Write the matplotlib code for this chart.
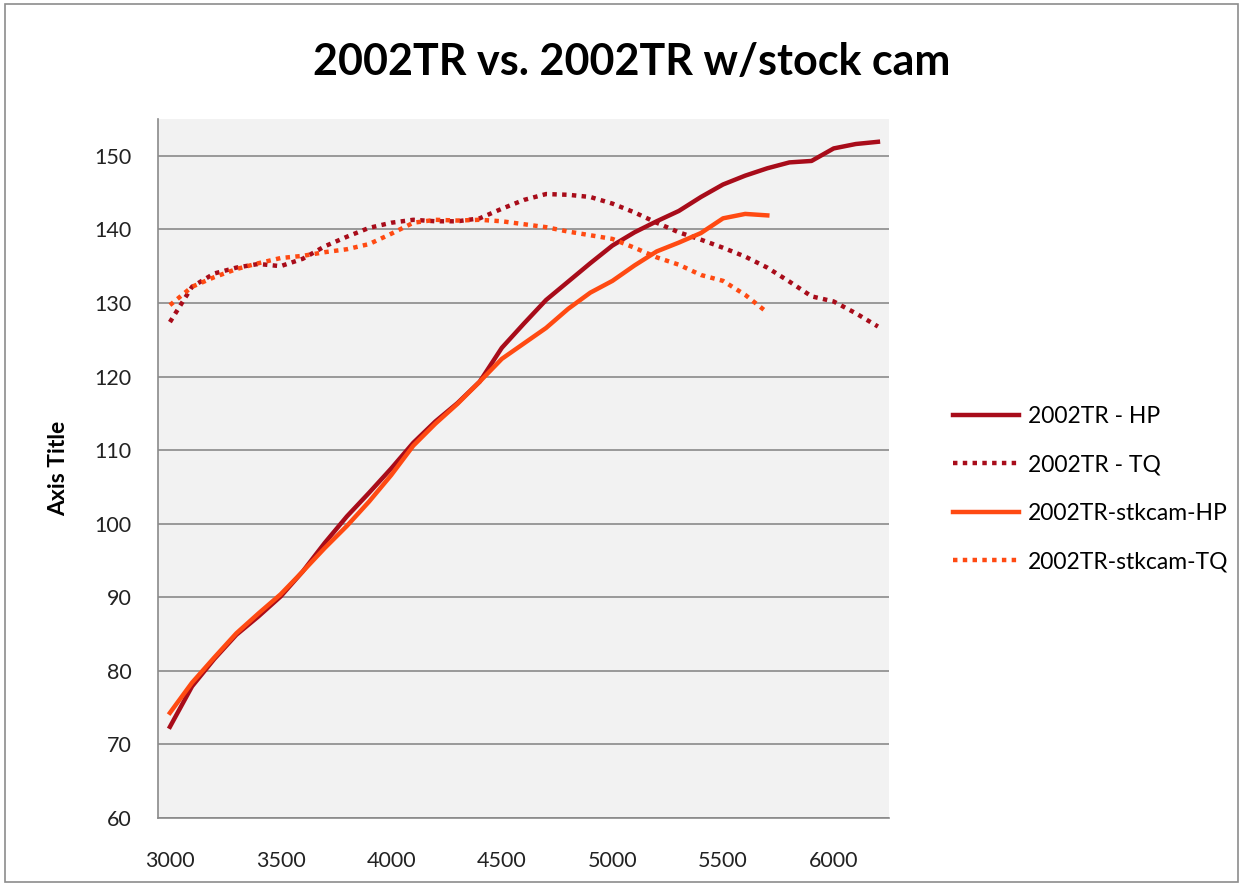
import matplotlib
matplotlib.use("Agg")
import matplotlib.pyplot as plt
from matplotlib.patches import Rectangle

# rpm categories (every 100 rpm)
rpm = [3000, 3100, 3200, 3300, 3400, 3500, 3600, 3700, 3800, 3900,
       4000, 4100, 4200, 4300, 4400, 4500, 4600, 4700, 4800, 4900,
       5000, 5100, 5200, 5300, 5400, 5500, 5600, 5700, 5800, 5900,
       6000, 6100, 6200]
rpm_stk = rpm[:28]

tr_hp = [72.4, 77.9, 81.6, 84.9, 87.4, 90.1, 93.5, 97.4, 101.0, 104.2,
         107.5, 111.0, 113.9, 116.4, 119.3, 123.9, 127.2, 130.4, 132.9, 135.4,
         137.8, 139.6, 141.1, 142.5, 144.4, 146.1, 147.3, 148.3, 149.1, 149.3,
         151.0, 151.6, 151.9]
tr_tq = [127.4, 132.2, 134.0, 134.8, 135.3, 135.0, 136.0, 137.7, 139.0, 140.2,
         140.9, 141.3, 141.1, 141.1, 141.5, 142.8, 144.0, 144.8, 144.7, 144.4,
         143.5, 142.3, 140.9, 139.6, 138.6, 137.5, 136.3, 134.8, 132.9, 130.9,
         130.2, 128.6, 126.8]
stk_hp = [74.3, 78.4, 81.8, 85.1, 87.8, 90.4, 93.5, 96.7, 99.7, 103.0,
          106.6, 110.6, 113.6, 116.3, 119.3, 122.4, 124.5, 126.6, 129.2, 131.4,
          133.0, 135.1, 137.0, 138.2, 139.5, 141.5, 142.1, 141.9]
stk_tq = [129.7, 132.2, 133.5, 134.6, 135.4, 136.1, 136.4, 136.9, 137.3, 138.0,
          139.4, 140.9, 141.3, 141.2, 141.3, 141.1, 140.7, 140.3, 139.7, 139.2,
          138.7, 137.5, 136.2, 135.2, 133.8, 133.0, 131.1, 128.7]

x_ticks = [3000, 3500, 4000, 4500, 5000, 5500, 6000]
y_ticks = [60, 70, 80, 90, 100, 110, 120, 130, 140, 150]

DARK = '#A80C1A'
ORANGE = '#FF4A12'
FONT = ['Lato', 'DejaVu Sans']

plt.rcParams['font.family'] = FONT

fig = plt.figure(figsize=(12.43, 8.86), dpi=100)
fig.patches.append(Rectangle((0.004, 0.004), 0.992, 0.992, transform=fig.transFigure,
                             fill=False, edgecolor='#8c8c8c', linewidth=1.2))

ax = fig.add_axes([0.1271, 0.0767, 0.5881, 0.789])
ax.set_facecolor('#F2F2F2')

lw = 3.2
ax.plot(rpm, tr_hp, color=DARK, linewidth=lw, label='2002TR - HP', solid_joinstyle='round')
ax.plot(rpm, tr_tq, color=DARK, linewidth=lw, linestyle=(0, (1, 1.2)), label='2002TR - TQ')
ax.plot(rpm_stk, stk_hp, color=ORANGE, linewidth=lw, label='2002TR-stkcam-HP', solid_joinstyle='round')
ax.plot(rpm_stk, stk_tq, color=ORANGE, linewidth=lw, linestyle=(0, (1, 1.2)), label='2002TR-stkcam-TQ')

ax.set_xlim(2946, 6250)
ax.set_ylim(60, 155)
ax.set_xticks(x_ticks)
ax.set_yticks(y_ticks)
ax.tick_params(axis='both', length=0, labelsize=15.5, colors='#222222')
ax.tick_params(axis='x', pad=24)
ax.tick_params(axis='y', pad=19)

ax.yaxis.grid(True, color='#8a8a8a', linewidth=1.2)
ax.set_axisbelow(True)
for side in ['top', 'right']:
    ax.spines[side].set_visible(False)
for side in ['left', 'bottom']:
    ax.spines[side].set_color('#8a8a8a')
    ax.spines[side].set_linewidth(1.2)

ax.set_ylabel('Axis Title', fontsize=16.5, fontweight='bold', labelpad=18)

fig.text(0.508, 0.930, '2002TR vs. 2002TR w/stock cam', ha='center', va='center',
         fontsize=31, fontweight='bold')

ax.legend(loc='center left', bbox_to_anchor=(1.06, 0.471), frameon=False, fontsize=16.5,
          handlelength=2.85, labelspacing=1.2, handletextpad=0.4)

fig.savefig('out.png', dpi=100)
